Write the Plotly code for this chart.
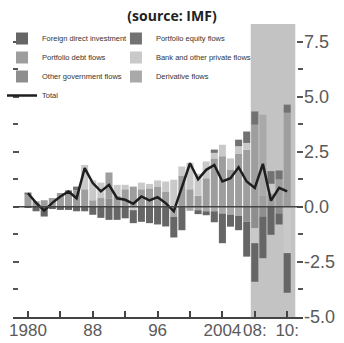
import plotly.graph_objects as go

periods = ["1980", "1981", "1982", "1983", "1984", "1985", "1986", "1987", "1988", "1989",
           "1990", "1991", "1992", "1993", "1994", "1995", "1996", "1997", "1998", "1999",
           "2000", "2001", "2002", "2003", "2004", "2005", "2006", "2007",
           "2008:H1", "2008:H2", "2009:H1", "2009:H2", "2010:H1"]

fdi = [-0.05, -0.2, -0.44, -0.1, -0.14, -0.14, -0.2, -0.2, -0.36, -0.5,
       -0.59, -0.59, -0.52, -0.59, -0.68, -0.74, -0.8, -0.89, -0.94, -1.06,
       0, -0.18, -0.18, -0.5, -1.35, -0.55, -0.66, -1.59, -1.75, -1.89,
       -1.27, -0.5, -1.8]
portfolio_equity = [0.1, 0, 0, 0, 0, 0.15, 0.17, 0, 0, 0,
                    0, 0, 0, 0, 0, 0, 0, 0, 0, 0,
                    0, 0, 0, 0.15, 0, 0, 0.3, 0.52, 0.6, 0,
                    0.57, 0.4, 0.37]
portfolio_debt = [0.55, 0.25, 0.3, 0.4, 0.63, 0.6, 0.75, 0.8, 0.3, 0.4,
                  1.2, 0.5, 0.8, 0.92, 0.8, 0.84, 0.9, 0.7, 0, 1.4,
                  0.8, 0.5, 1.3, 2.2, 2.3, 1.7, 2.4, 2.6, 3.73, 0.5,
                  0.6, 1.25, 4.27]
bank_other = [0, 0, 0, 0, 0, 0, 0, 1.1, 0.9, 0.7,
              0, 0.5, 0.2, -0.15, 0.3, 0.2, 0.3, 0.45, 1.23, 0.43,
              1.2, 1.0, 0.76, 0.25, 0.52, 0.5, 0.35, 0.3, -0.68, 0,
              0.45, 0, -2.1]
other_government = [0, 0, 0, 0, 0, 0, 0, 0, 0, 0,
                    0.36, 0, 0, 0, 0, 0, 0, 0, 0, 0,
                    0, 0, 0, 0, 0, 0, 0, -0.67, -0.97, -0.44,
                    0, -0.3, 0]
derivative = [0, 0, 0, 0, 0, 0, 0, 0, 0, 0,
              0, 0, 0, 0, 0, 0, 0, 0, -0.45, 0,
              -0.18, -0.15, -0.2, -0.2, -0.3, -0.35, -0.4, 0, 0, 3.68,
              0, 0, 0]
total = [0.62, 0.18, -0.17, 0.18, 0.47, 0.7, 0.39, 1.76, 1.08, 0.7,
         1.0, 0.39, 0.32, 0.14, 0.47, 0.29, 0.44, 0.17, -0.2, 0.9,
         1.98, 1.25, 1.68, 1.9, 1.15, 1.3, 1.8, 1.15, 0.86, 1.95,
         0.28, 0.86, 0.7]

x_tick_values = ["1980", "1984", "1988", "1992", "1996", "2000", "2004", "2008:H1", "2010:H1"]
x_tick_labels = ["1980", "", "88", "", "96", "", "2004", "08:", "10:"]
y_tick_values = [-5, -2.5, 0, 2.5, 5, 7.5]
y_tick_labels = ["-5.0", "-2.5", "0.0", "2.5", "5.0", "7.5"]
y_minor_values = [-3.75, -1.25, 1.25, 3.75, 6.25]

# (name, values, colour, legend, legend rank) in stacking order
bar_series = [
    ("Other government flows", other_government, "#8e8e8e", "legend", 3),
    ("Portfolio debt flows", portfolio_debt, "#9e9e9e", "legend", 2),
    ("Bank and other private flows", bank_other, "#c9c9c9", "legend2", 2),
    ("Derivative flows", derivative, "#a9a9a9", "legend2", 3),
    ("Portfolio equity flows", portfolio_equity, "#727272", "legend2", 1),
    ("Foreign direct investment", fdi, "#666666", "legend", 1),
]

fig = go.Figure()
for name, vals, color, leg, rank in bar_series:
    fig.add_trace(go.Bar(x=periods, y=vals, name=name, marker=dict(color=color, line=dict(width=0)),
                         legend=leg, legendrank=rank))
fig.add_trace(go.Scatter(x=periods, y=total, name="Total", mode="lines",
                         line=dict(color="#1e1e1e", width=2.5), legend="legend", legendrank=4))

fig.add_shape(type="rect", xref="x", yref="paper", x0=27.5, x1=33.0, y0=0, y1=1,
              fillcolor="#c3c3c3", line=dict(width=0), layer="below")
fig.add_shape(type="line", xref="paper", yref="y", x0=0, x1=1, y0=0, y1=0,
              line=dict(color="#444444", width=1.5), layer="above")

tick_font = dict(family="Liberation Sans, Arial, sans-serif", size=17, color="#5a5a5a")
ytick_font = dict(family="Liberation Sans, Arial, sans-serif", size=18, color="#5a5a5a")
legend_font = dict(family="Liberation Sans, Arial, sans-serif", size=7.5, color="#333333")

fig.update_layout(
    width=344, height=343,
    margin=dict(l=13, r=41, t=24, b=26, autoexpand=False),
    plot_bgcolor="white", paper_bgcolor="white",
    barmode="relative", bargap=0.13,
    title=dict(text="<b>(source: IMF)</b>", x=0.5, xref="container", y=0.953, yref="container",
               xanchor="center", yanchor="middle",
               font=dict(family="Open Sans, Noto Sans, sans-serif", size=14, color="#222222")),
    legend=dict(x=-0.038, y=1.0, xanchor="left", yanchor="top", font=legend_font,
                bgcolor="rgba(0,0,0,0)", traceorder="normal"),
    legend2=dict(x=0.355, y=1.0, xanchor="left", yanchor="top", font=legend_font,
                 bgcolor="rgba(0,0,0,0)", traceorder="normal"),
    xaxis=dict(type="category", categoryorder="array", categoryarray=periods,
               range=[-1.85, 33.95], tickmode="array", tickvals=x_tick_values, ticktext=x_tick_labels,
               tickangle=0, ticks="inside", ticklen=6, tickwidth=1.5, tickcolor="#444444",
               ticklabelstandoff=-3,
               showline=True, linecolor="#444444", linewidth=2, automargin=False,
               showgrid=False, zeroline=False, tickfont=tick_font),
    yaxis=dict(side="right", range=[-5, 8.3], tickmode="array", tickvals=y_tick_values, ticktext=y_tick_labels,
               ticks="inside", ticklen=6, tickwidth=1.5, tickcolor="#555555", mirror="ticks",
               ticklabelstandoff=0, automargin=False,
               minor=dict(tickmode="array", tickvals=y_minor_values, ticks="inside", ticklen=5,
                          tickwidth=1.5, tickcolor="#555555"),
               showgrid=False, zeroline=False, showline=False, tickfont=ytick_font),
)

fig.write_html("out.html", config={"displayModeBar": False},
               post_script="document.body.style.margin='0';")
